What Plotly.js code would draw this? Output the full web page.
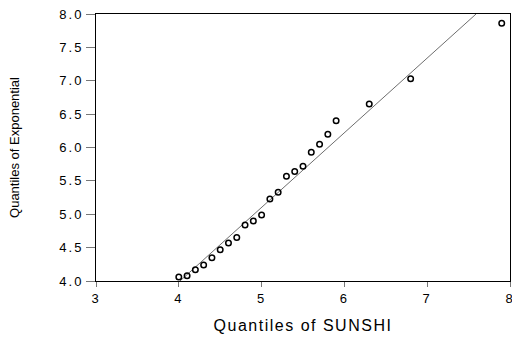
<!DOCTYPE html>
<html>
<head>
<meta charset="utf-8">
<script src="https://cdn.plot.ly/plotly-3.0.1.min.js"></script>
<style>
  html, body { margin: 0; padding: 0; background: #fff; }
  #chart { width: 512px; height: 339px; }
  .xtick text, .ytick text { letter-spacing: 2px; }
  .g-xtitle text { letter-spacing: 1.5px; }
</style>
</head>
<body>
<div id="chart"></div>
<script>
// Quantile pairs
const sunshiQuantiles = [4.0, 4.1, 4.2, 4.3, 4.4, 4.5, 4.6, 4.7, 4.8, 4.9, 5.0, 5.1, 5.2, 5.3, 5.4, 5.5, 5.6, 5.7, 5.8, 5.9, 6.3, 6.8, 7.9];
const exponentialQuantiles = [4.06, 4.08, 4.17, 4.24, 4.35, 4.47, 4.57, 4.65, 4.84, 4.90, 4.99, 5.23, 5.33, 5.57, 5.64, 5.72, 5.93, 6.05, 6.20, 6.40, 6.65, 7.03, 7.86];
// Reference line endpoints
const refLineX = [4.014, 7.59];
const refLineY = [4.0, 8.0];
const xTickVals = [3, 4, 5, 6, 7, 8];
const yTickVals = [4.0, 4.5, 5.0, 5.5, 6.0, 6.5, 7.0, 7.5, 8.0];
const yTickText = ['4.0', '4.5', '5.0', '5.5', '6.0', '6.5', '7.0', '7.5', '8.0'];

const traces = [
  {
    x: refLineX, y: refLineY, type: 'scatter', mode: 'lines',
    line: { color: '#6e6e6e', width: 1 }, hoverinfo: 'skip', showlegend: false
  },
  {
    x: sunshiQuantiles, y: exponentialQuantiles, type: 'scatter', mode: 'markers',
    marker: { symbol: 'circle-open', size: 5.5, color: '#000', line: { width: 1.5, color: '#000' } },
    showlegend: false
  }
];

const layout = {
  width: 512, height: 339,
  margin: { l: 96, r: 2, t: 14, b: 58 },
  paper_bgcolor: '#fff', plot_bgcolor: '#fff',
  font: { family: 'Liberation Sans, Arial, sans-serif', color: '#000' },
  showlegend: false,
  xaxis: {
    range: [3, 8], tickvals: xTickVals, ticktext: xTickVals.map(String),
    showgrid: false, zeroline: false,
    showline: true, linecolor: '#000', linewidth: 1, mirror: true,
    ticks: 'outside', ticklen: 5, tickwidth: 1, tickcolor: '#777',
    ticklabeloverflow: 'allow',
    tickfont: { size: 13, family: 'Liberation Sans, Arial, sans-serif' },
    title: { text: 'Quantiles of SUNSHI', font: { size: 16, family: 'Liberation Sans, Arial, sans-serif' }, standoff: 15 },
    automargin: false
  },
  yaxis: {
    range: [4, 8], tickvals: yTickVals, ticktext: yTickText,
    showgrid: false, zeroline: false,
    showline: true, linecolor: '#000', linewidth: 1, mirror: true,
    ticks: 'outside', ticklen: 9, tickwidth: 1, tickcolor: '#777',
    tickfont: { size: 13, family: 'Liberation Sans, Arial, sans-serif' },
    title: { text: 'Quantiles of Exponential', font: { size: 13, family: 'Liberation Sans, Arial, sans-serif' }, standoff: 36 },
    automargin: false
  }
};

Plotly.newPlot('chart', traces, layout, { staticPlot: true, displayModeBar: false });
</script>
</body>
</html>
